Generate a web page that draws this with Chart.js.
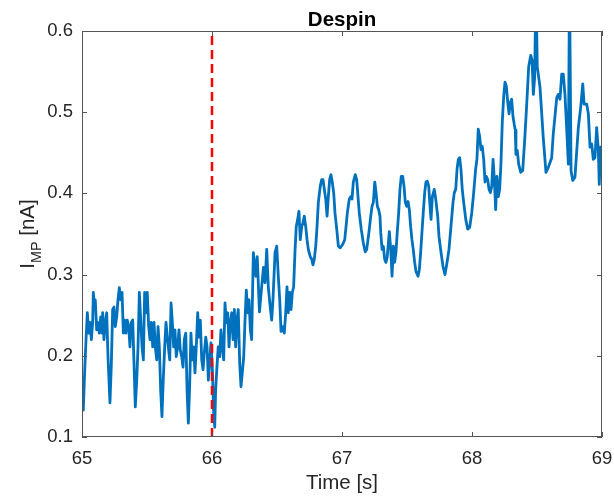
<!DOCTYPE html>
<html><head><meta charset="utf-8">
<script src="https://cdn.jsdelivr.net/npm/chart.js@4.4.0/dist/chart.umd.min.js"></script>
<style>html,body{margin:0;padding:0;background:#fff;}</style>
</head><body>
<canvas id="c" width="614" height="498"></canvas>
<script>
// ---- data ----
const timeSec = [
65.000,65.010,65.021,65.031,65.041,65.052,65.062,65.072,65.082,65.087,65.098,65.102,65.113,65.123,65.133,65.144,65.154,65.159,65.169,65.179,
65.190,65.200,65.215,65.225,65.236,65.246,65.256,65.267,65.277,65.287,65.298,65.308,65.318,65.328,65.338,65.348,65.359,65.369,65.379,65.390,
65.400,65.410,65.421,65.431,65.441,65.452,65.462,65.472,65.482,65.492,65.502,65.513,65.523,65.533,65.544,65.554,65.564,65.575,65.585,65.595,
65.605,65.615,65.625,65.636,65.646,65.664,65.675,65.685,65.695,65.705,65.715,65.725,65.736,65.746,65.756,65.767,65.777,65.787,65.798,65.808,
65.818,65.828,65.838,65.848,65.859,65.869,65.879,65.890,65.900,65.910,65.921,65.931,65.941,65.952,65.962,65.972,65.982,65.992,66.002,66.013,
66.021,66.028,66.038,66.048,66.059,66.069,66.079,66.090,66.100,66.110,66.121,66.131,66.141,66.152,66.162,66.172,66.182,66.192,66.202,66.213,
66.223,66.233,66.244,66.254,66.264,66.275,66.285,66.295,66.305,66.318,66.338,66.348,66.365,66.382,66.396,66.408,66.421,66.433,66.448,66.459,
66.469,66.485,66.498,66.510,66.521,66.531,66.541,66.556,66.567,66.577,66.587,66.598,66.608,66.618,66.628,66.638,66.648,66.659,66.669,66.679,
66.690,66.700,66.710,66.721,66.731,66.741,66.756,66.767,66.777,66.787,66.798,66.808,66.818,66.833,66.844,66.854,66.864,66.875,66.885,66.895,
66.905,66.915,66.925,66.936,66.946,66.962,66.972,66.987,67.005,67.021,67.031,67.041,67.056,67.067,67.077,67.087,67.102,67.113,67.123,67.133,
67.148,67.164,67.179,67.190,67.200,67.210,67.221,67.231,67.241,67.252,67.262,67.272,67.282,67.292,67.298,67.308,67.318,67.328,67.338,67.348,
67.364,67.375,67.385,67.395,67.405,67.415,67.425,67.436,67.446,67.456,67.467,67.477,67.487,67.498,67.508,67.518,67.528,67.538,67.548,67.559,
67.569,67.585,67.595,67.605,67.615,67.625,67.636,67.646,67.656,67.667,67.675,67.685,67.695,67.710,67.721,67.736,67.746,67.762,67.777,67.792,
67.808,67.823,67.838,67.854,67.864,67.875,67.885,67.895,67.905,67.915,67.925,67.936,67.952,67.967,67.982,67.998,68.013,68.028,68.038,68.048,
68.059,68.069,68.079,68.090,68.100,68.110,68.121,68.131,68.141,68.152,68.162,68.172,68.182,68.192,68.202,68.213,68.223,68.233,68.244,68.254,
68.264,68.275,68.285,68.295,68.305,68.315,68.325,68.333,68.338,68.348,68.359,68.375,68.390,68.405,68.421,68.436,68.452,68.462,68.472,68.482,
68.492,68.502,68.523,68.548,68.569,68.587,68.613,68.625,68.652,68.664,68.677,68.690,68.702,68.715,68.728,68.741,68.750,68.762,68.775,68.792,
68.818,68.836,68.852,68.862,68.882,68.895,68.908,68.921,68.933,68.946,68.959,68.972,68.979,68.990,69.000
];
const currentNA = [
0.152,0.133,0.183,0.220,0.253,0.228,0.241,0.220,0.241,0.278,0.260,0.269,0.232,0.241,0.228,0.248,0.228,0.253,0.220,0.241,
0.253,0.199,0.142,0.186,0.257,0.260,0.236,0.248,0.269,0.284,0.269,0.278,0.228,0.244,0.228,0.244,0.236,0.211,0.241,0.244,
0.191,0.137,0.170,0.211,0.278,0.244,0.211,0.195,0.278,0.253,0.278,0.236,0.220,0.241,0.211,0.241,0.211,0.195,0.236,0.211,
0.158,0.125,0.170,0.211,0.241,0.211,0.195,0.265,0.241,0.211,0.232,0.199,0.211,0.232,0.207,0.199,0.186,0.220,0.228,0.158,
0.117,0.162,0.228,0.195,0.211,0.179,0.211,0.253,0.223,0.244,0.195,0.183,0.204,0.223,0.211,0.170,0.191,0.216,0.186,0.130,
0.112,0.158,0.186,0.211,0.199,0.232,0.211,0.195,0.265,0.241,0.253,0.211,0.241,0.253,0.220,0.257,0.211,0.244,0.257,0.191,
0.162,0.179,0.199,0.244,0.281,0.253,0.269,0.232,0.220,0.327,0.298,0.322,0.254,0.285,0.309,0.290,0.331,0.285,0.260,0.244,
0.269,0.327,0.335,0.298,0.269,0.230,0.236,0.228,0.253,0.285,0.253,0.278,0.257,0.278,0.285,0.327,0.359,0.368,0.378,0.343,
0.359,0.364,0.372,0.359,0.343,0.331,0.322,0.319,0.312,0.319,0.335,0.359,0.389,0.409,0.417,0.417,0.405,0.393,0.372,0.396,
0.417,0.423,0.414,0.401,0.376,0.352,0.335,0.333,0.337,0.343,0.359,0.376,0.393,0.396,0.393,0.414,0.423,0.417,0.396,0.376,
0.356,0.339,0.328,0.331,0.343,0.356,0.372,0.384,0.389,0.414,0.401,0.384,0.380,0.372,0.352,0.331,0.335,0.319,0.315,0.322,
0.353,0.331,0.298,0.335,0.315,0.327,0.352,0.376,0.405,0.421,0.421,0.409,0.389,0.384,0.390,0.380,0.359,0.343,0.331,0.315,
0.304,0.298,0.306,0.327,0.352,0.376,0.401,0.414,0.415,0.409,0.389,0.368,0.396,0.405,0.393,0.372,0.347,0.327,0.310,0.300,
0.315,0.331,0.359,0.389,0.401,0.405,0.430,0.442,0.444,0.430,0.405,0.389,0.368,0.356,0.358,0.376,0.401,0.430,0.442,0.479,
0.470,0.454,0.458,0.442,0.414,0.421,0.417,0.405,0.401,0.409,0.442,0.417,0.380,0.421,0.396,0.405,0.438,0.488,0.520,0.537,
0.532,0.512,0.498,0.512,0.516,0.495,0.485,0.478,0.448,0.453,0.436,0.426,0.428,0.465,0.510,0.556,0.570,0.564,0.522,0.543,
0.660,0.556,0.531,0.469,0.426,0.432,0.444,0.473,0.518,0.522,0.516,0.547,0.547,0.522,0.481,0.436,0.660,0.428,0.416,0.420,
0.481,0.506,0.535,0.510,0.510,0.498,0.457,0.461,0.442,0.444,0.481,0.453,0.411,0.457,0.428
];
const markerTime = 66;            // red dashed line
const xTicks = [65, 66, 67, 68, 69];
const yTicks = [0.1, 0.2, 0.3, 0.4, 0.5, 0.6];
const titleText = 'Despin';
const xLabel = 'Time [s]';
const yLabelMain = 'I', yLabelSub = 'MP', yLabelRest = ' [nA]';

// ---- styling ----
const FONT = "'Liberation Sans', Arial, Helvetica, sans-serif";
const AXIS_COLOR = '#262626';
const BOX_COLOR = '#555555';
const TICK_FONT = 18.5, LABEL_FONT = 20.5;

const boxPlugin = {
  id: 'matlabBox',
  afterLayout(chart) {
    // centre the title over the plotting box, as MATLAB does
    const tb = chart.titleBlock, a = chart.chartArea;
    if (tb) { tb.left = a.left; tb.right = a.right; tb.width = a.right - a.left; }
  },
  afterDatasetsDraw(chart) {
    const {ctx, chartArea: a, scales: {x, y}} = chart;
    ctx.save();
    ctx.strokeStyle = BOX_COLOR;
    ctx.lineWidth = 1;
    ctx.strokeRect(a.left + 0.5, a.top + 0.5, a.right - a.left - 1, a.bottom - a.top - 1);
    const L = 5;
    ctx.beginPath();
    xTicks.forEach(v => {
      const px = Math.round(x.getPixelForValue(v)) + 0.5;
      ctx.moveTo(px, a.bottom); ctx.lineTo(px, a.bottom - L);
      ctx.moveTo(px, a.top); ctx.lineTo(px, a.top + L);
    });
    yTicks.forEach(v => {
      const py = Math.round(y.getPixelForValue(v)) + 0.5;
      ctx.moveTo(a.left, py); ctx.lineTo(a.left + L, py);
      ctx.moveTo(a.right, py); ctx.lineTo(a.right - L, py);
    });
    ctx.stroke();
    ctx.restore();
  }
};

const yTitlePlugin = {
  id: 'yTitleSub',
  afterDraw(chart) {
    const {ctx, chartArea: a} = chart;
    const cx = 27, cy = (a.top + a.bottom) / 2;
    const big = `${LABEL_FONT}px ${FONT}`, small = `${LABEL_FONT * 0.7}px ${FONT}`;
    ctx.save();
    ctx.fillStyle = AXIS_COLOR;
    ctx.textBaseline = 'alphabetic';
    ctx.font = big; const w1 = ctx.measureText(yLabelMain).width, w3 = ctx.measureText(yLabelRest).width;
    ctx.font = small; const w2 = ctx.measureText(yLabelSub).width;
    const total = w1 + w2 + w3;
    ctx.translate(cx, cy);
    ctx.rotate(-Math.PI / 2);
    let xx = -total / 2;
    const base = LABEL_FONT * 0.36;
    ctx.font = big; ctx.fillText(yLabelMain, xx, base); xx += w1;
    ctx.font = small; ctx.fillText(yLabelSub, xx, base + LABEL_FONT * 0.3); xx += w2;
    ctx.font = big; ctx.fillText(yLabelRest, xx, base);
    ctx.restore();
  }
};

new Chart(document.getElementById('c'), {
  type: 'line',
  data: {
    datasets: [
      {
        label: 'I_MP',
        data: timeSec.map((t, i) => ({x: t, y: currentNA[i]})),
        borderColor: '#0072BD', borderWidth: 2.8, pointRadius: 0, tension: 0,
        borderJoinStyle: 'round', clip: 0, order: 2
      },
      {
        label: 'Despin start',
        data: [{x: markerTime, y: yTicks[0]}, {x: markerTime, y: yTicks[yTicks.length - 1]}],
        borderColor: '#FF0000', borderWidth: 2.5, borderDash: [9, 5], pointRadius: 0,
        clip: 0, order: 1
      }
    ]
  },
  options: {
    responsive: false, animation: false,
    layout: {padding: {left: 0, right: 12, top: 0, bottom: 0}},
    plugins: {
      legend: {display: false}, tooltip: {enabled: false},
      title: {display: true, text: titleText, color: '#000',
        font: {family: FONT, size: LABEL_FONT, weight: 'bold', lineHeight: 1.0},
        padding: {top: 10, bottom: 0.5}}
    },
    scales: {
      x: {
        type: 'linear', min: xTicks[0], max: xTicks[xTicks.length - 1],
        afterBuildTicks: s => { s.ticks = xTicks.map(v => ({value: v})); },
        afterFit: s => { s.height = 61; s.paddingLeft = 0; s.paddingRight = 0; },
        grid: {display: false, drawTicks: false}, border: {display: false},
        ticks: {color: AXIS_COLOR, padding: 11, maxRotation: 0, font: {family: FONT, size: TICK_FONT},
          callback: v => String(v)},
        title: {display: true, text: xLabel, color: AXIS_COLOR, padding: {top: 0, bottom: 2},
          font: {family: FONT, size: LABEL_FONT, lineHeight: 1.2}}
      },
      y: {
        type: 'linear', min: yTicks[0], max: yTicks[yTicks.length - 1],
        afterBuildTicks: s => { s.ticks = yTicks.map(v => ({value: v})); },
        afterFit: s => { s.width = 82; s.paddingTop = 0; s.paddingBottom = 0; },
        grid: {display: false, drawTicks: false}, border: {display: false},
        ticks: {color: AXIS_COLOR, padding: 9, font: {family: FONT, size: TICK_FONT},
          callback: v => v.toFixed(1)}
      }
    }
  },
  plugins: [boxPlugin, yTitlePlugin]
});
</script>
</body></html>
